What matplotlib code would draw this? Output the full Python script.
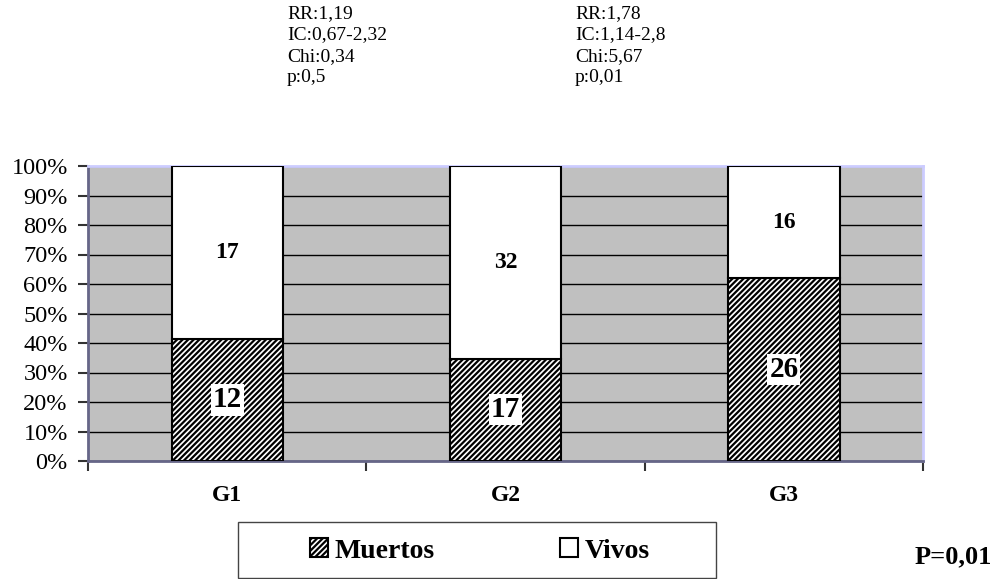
import matplotlib
matplotlib.use('Agg')
import matplotlib.pyplot as plt
from matplotlib.patches import Rectangle
import numpy as np

categories = ['G1', 'G2', 'G3']
muertos = [12, 17, 26]
vivos = [17, 32, 16]
series_names = ['Muertos', 'Vivos']
ytick_values = [0, 10, 20, 30, 40, 50, 60, 70, 80, 90, 100]
ytick_labels = ['0%', '10%', '20%', '30%', '40%', '50%', '60%', '70%', '80%', '90%', '100%']
stats_g1 = ['RR:1,19', 'IC:0,67-2,32', 'Chi:0,34', 'p:0,5']
stats_g3 = ['RR:1,78', 'IC:1,14-2,8', 'Chi:5,67', 'p:0,01']
p_text = 'P=0,01'

plt.rcParams['font.family'] = ['Liberation Serif', 'DejaVu Serif']
plt.rcParams['hatch.linewidth'] = 1.6
plt.rcParams['hatch.color'] = 'black'

W, H = 993, 579
fig = plt.figure(figsize=(W / 100, H / 100), dpi=100)
ax = fig.add_axes([88 / W, 1 - 461 / H, 835 / W, 295 / H])
ax.set_facecolor('#C0C0C0')

m = np.array(muertos, dtype=float)
v = np.array(vivos, dtype=float)
tot = m + v
pm = m / tot * 100
pv = v / tot * 100
x = np.arange(len(categories))

b1 = ax.bar(x, pm, 0.4, color='white', edgecolor='black', hatch='//////',
            linewidth=1.5, label=series_names[0], zorder=3)
b2 = ax.bar(x, pv, 0.4, bottom=pm, color='white', edgecolor='black',
            linewidth=1.5, label=series_names[1], zorder=3)

for xi, pmi, pvi, mi, vi in zip(x, pm, pv, muertos, vivos):
    ax.text(xi, pmi / 2, str(mi), ha='center', va='center', fontsize=21,
            fontweight='bold', zorder=5,
            bbox=dict(facecolor='white', edgecolor='none', pad=1.5))
    ax.text(xi, pmi + pvi / 2, str(vi), ha='center', va='center', fontsize=17,
            fontweight='bold', zorder=5)

ax.set_xlim(-0.5, len(categories) - 0.5)
ax.set_ylim(0, 100)
ax.set_yticks(ytick_values)
ax.set_yticklabels(ytick_labels)
ax.yaxis.grid(True, color='black', linewidth=1)
ax.set_axisbelow(True)

ax.set_xticks(np.arange(len(categories) + 1) - 0.5)
ax.set_xticklabels([])
ax.set_xticks(x, minor=True)
ax.set_xticklabels(categories, minor=True, fontsize=17, fontweight='bold')
ax.tick_params(axis='x', which='major', length=7, width=1.5, color='#333333', direction='out')
ax.tick_params(axis='x', which='minor', length=0, pad=17)
ax.tick_params(axis='y', length=7, width=1.5, color='#333333', pad=7.5, labelsize=17.5)

for s in ['left', 'bottom']:
    ax.spines[s].set_color('#666688')
    ax.spines[s].set_linewidth(2)
for s in ['top', 'right']:
    ax.spines[s].set_color('#CCCCFF')
    ax.spines[s].set_linewidth(2)

leg = fig.legend(handles=[b1, b2], loc='center', bbox_to_anchor=(480 / W, 1 - 551 / H),
                 ncol=2, frameon=False,
                 prop={'weight': 'bold', 'size': 20},
                 handlelength=0.65, handleheight=0.65, handletextpad=0.25,
                 columnspacing=4.5)

fig.patches.append(Rectangle((238 / W, 1 - 578 / H), 478 / W, 56 / H,
                             transform=fig.transFigure, fill=False,
                             edgecolor='#444444', linewidth=1))

for i, line in enumerate(stats_g1):
    fig.text(287 / W, 1 - (18 + i * 21.3) / H, line, ha='left', va='baseline', fontsize=14)
for i, line in enumerate(stats_g3):
    fig.text(575 / W, 1 - (18 + i * 21.3) / H, line, ha='left', va='baseline', fontsize=14)

fig.text(915 / W, 1 - 563 / H, p_text, ha='left', va='baseline', fontsize=19, fontweight='bold')

fig.savefig('out.png', dpi=100)
